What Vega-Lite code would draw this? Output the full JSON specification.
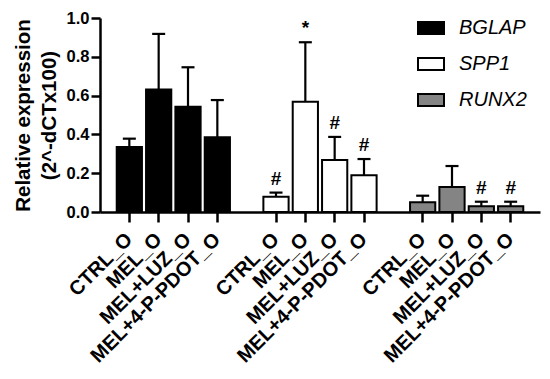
{
  "$schema": "https://vega.github.io/schema/vega-lite/v6.json",
  "width": 440,
  "height": 194,
  "autosize": {"type": "none"},
  "padding": {"left": 100, "top": 18, "right": 10, "bottom": 167},
  "background": "white",
  "config": {
    "view": {"stroke": null},
    "font": "Liberation Sans",
    "axis": {"labelOverlap": false},
    "axisY": {"labelOverlap": false},
    "legend": {"orient": "none"}
  },
  "data": {
    "values": [
      {"key": "BGLAP|CTRL_O", "gene": "BGLAP", "value": 0.335, "upper": 0.378, "sig": ""},
      {"key": "BGLAP|MEL_O", "gene": "BGLAP", "value": 0.632, "upper": 0.918, "sig": ""},
      {"key": "BGLAP|MEL+LUZ_O", "gene": "BGLAP", "value": 0.543, "upper": 0.746, "sig": ""},
      {"key": "BGLAP|MEL+4-P-PDOT_O", "gene": "BGLAP", "value": 0.385, "upper": 0.577, "sig": ""},
      {"key": "SPP1|CTRL_O", "gene": "SPP1", "value": 0.079, "upper": 0.1, "sig": "#"},
      {"key": "SPP1|MEL_O", "gene": "SPP1", "value": 0.568, "upper": 0.875, "sig": "*"},
      {"key": "SPP1|MEL+LUZ_O", "gene": "SPP1", "value": 0.268, "upper": 0.387, "sig": "#"},
      {"key": "SPP1|MEL+4-P-PDOT_O", "gene": "SPP1", "value": 0.189, "upper": 0.273, "sig": "#"},
      {"key": "RUNX2|CTRL_O", "gene": "RUNX2", "value": 0.05, "upper": 0.084, "sig": ""},
      {"key": "RUNX2|MEL_O", "gene": "RUNX2", "value": 0.129, "upper": 0.237, "sig": ""},
      {"key": "RUNX2|MEL+LUZ_O", "gene": "RUNX2", "value": 0.029, "upper": 0.053, "sig": "#"},
      {"key": "RUNX2|MEL+4-P-PDOT_O", "gene": "RUNX2", "value": 0.029, "upper": 0.053, "sig": "#"}
    ]
  },
  "encoding": {
    "x": {
      "field": "key",
      "type": "nominal",
      "scale": {
        "domain": ["BGLAP|CTRL_O", "BGLAP|MEL_O", "BGLAP|MEL+LUZ_O", "BGLAP|MEL+4-P-PDOT_O", "gap1",
                   "SPP1|CTRL_O", "SPP1|MEL_O", "SPP1|MEL+LUZ_O", "SPP1|MEL+4-P-PDOT_O", "gap2",
                   "RUNX2|CTRL_O", "RUNX2|MEL_O", "RUNX2|MEL+LUZ_O", "RUNX2|MEL+4-P-PDOT_O"],
        "paddingInner": 0.14,
        "paddingOuter": 0.57
      },
      "axis": {
        "title": null,
        "values": ["BGLAP|CTRL_O", "BGLAP|MEL_O", "BGLAP|MEL+LUZ_O", "BGLAP|MEL+4-P-PDOT_O",
                   "SPP1|CTRL_O", "SPP1|MEL_O", "SPP1|MEL+LUZ_O", "SPP1|MEL+4-P-PDOT_O",
                   "RUNX2|CTRL_O", "RUNX2|MEL_O", "RUNX2|MEL+LUZ_O", "RUNX2|MEL+4-P-PDOT_O"],
        "labelExpr": "split(datum.value, '|')[1]",
        "labelAngle": -45,
        "labelAlign": "right",
        "labelBaseline": "middle",
        "labelFontSize": 20,
        "labelFontWeight": "bold",
        "labelColor": "black",
        "labelLimit": 0,
        "labelOverlap": false,
        "labelPadding": 14,
        "tickSize": 10,
        "tickWidth": 2.5,
        "tickColor": "black",
        "domainColor": "black",
        "domainWidth": 2.5,
        "grid": false
      }
    },
    "y": {
      "field": "value",
      "type": "quantitative",
      "scale": {"domain": [0, 1]},
      "axis": {
        "values": [0, 0.2, 0.4, 0.6, 0.8, 1.0],
        "format": ".1f",
        "labelOverlap": false,
        "labelFontSize": 16.5,
        "labelFontWeight": "bold",
        "labelColor": "black",
        "labelPadding": 2,
        "tickSize": 9,
        "tickWidth": 2.5,
        "tickColor": "black",
        "domainColor": "black",
        "domainWidth": 2.5,
        "grid": false,
        "title": ["Relative expression", "(2^-dCTx100)"],
        "titleFontSize": 20.5,
        "titleFontWeight": "bold",
        "titleColor": "black",
        "titleLineHeight": 26,
        "titlePadding": 7
      }
    }
  },
  "layer": [
    {
      "mark": {"type": "bar", "stroke": "black", "strokeWidth": 2},
      "encoding": {
        "fill": {
          "field": "gene",
          "type": "nominal",
          "scale": {"domain": ["BGLAP", "SPP1", "RUNX2"], "range": ["#000000", "#ffffff", "#848484"]},
          "legend": {
            "orient": "none",
            "legendX": 317,
            "legendY": -4,
            "title": null,
            "padding": 0,
            "labelFontSize": 20,
            "labelFontStyle": "italic",
            "labelColor": "black",
            "labelOffset": 14,
            "symbolType": "M-1,-0.46H1V0.46H-1Z",
            "symbolSize": 676,
            "symbolStrokeWidth": 2,
            "symbolStrokeColor": "black",
            "rowPadding": 12
          }
        }
      }
    },
    {
      "mark": {"type": "rule", "strokeWidth": 2.2, "color": "black"},
      "encoding": {
        "y2": {"field": "upper"}
      }
    },
    {
      "mark": {"type": "tick", "color": "black", "thickness": 2.2, "size": 13, "opacity": 1},
      "encoding": {
        "y": {"field": "upper", "type": "quantitative"}
      }
    },
    {
      "mark": {"type": "text", "dy": -4, "baseline": "bottom", "fontSize": 19, "fontWeight": "bold", "color": "black"},
      "encoding": {
        "y": {"field": "upper", "type": "quantitative"},
        "text": {"field": "sig"}
      }
    }
  ]
}
